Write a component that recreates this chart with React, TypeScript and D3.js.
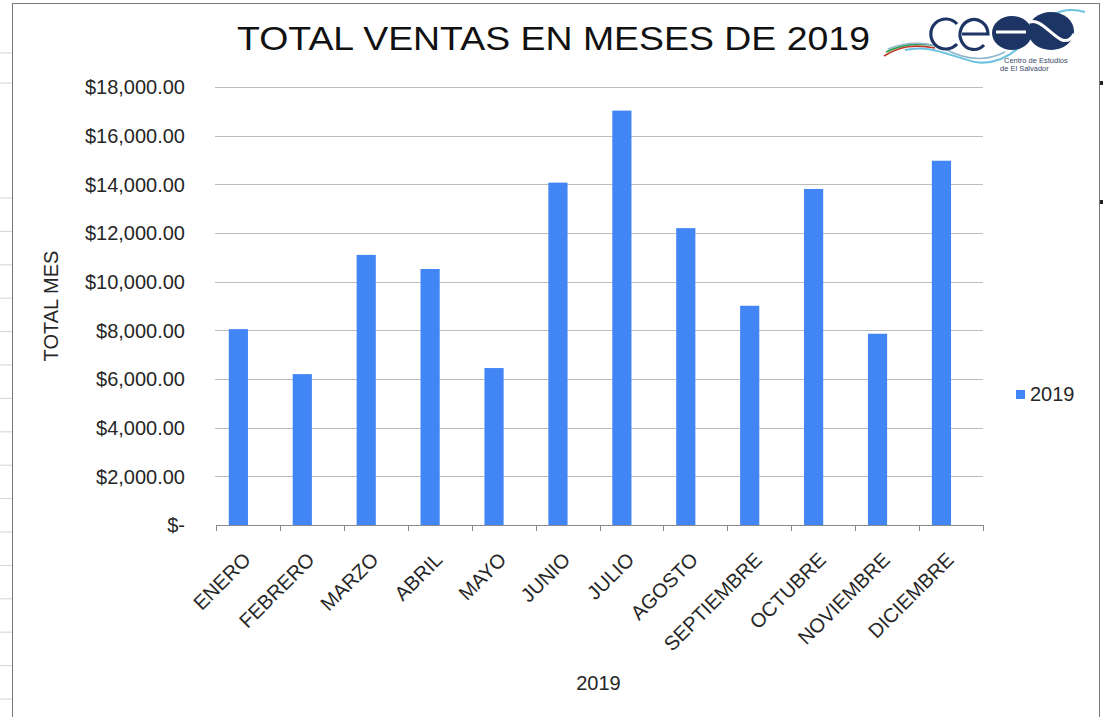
import { useEffect, useRef } from "react"
import * as d3 from "d3"

// Data
const months = ["ENERO", "FEBRERO", "MARZO", "ABRIL", "MAYO", "JUNIO", "JULIO", "AGOSTO", "SEPTIEMBRE", "OCTUBRE", "NOVIEMBRE", "DICIEMBRE"]
const ventas2019 = [8050, 6200, 11100, 10520, 6450, 14070, 17030, 12200, 9010, 13810, 7860, 14970]
const yTicks = [0, 2000, 4000, 6000, 8000, 10000, 12000, 14000, 16000, 18000]
const seriesName = "2019"

const W = 1106
const H = 717
const FONT = "'Liberation Sans', Arial, sans-serif"

export default function App() {
    const svgRef = useRef<SVGSVGElement>(null)

    useEffect(() => {
        const svg = d3.select(svgRef.current)
        svg.selectAll("*").remove()

        const plot = { left: 216, right: 983, top: 87, bottom: 525 }

        const x = d3.scaleBand<string>().domain(months).range([plot.left, plot.right]).padding(0)
        const y = d3.scaleLinear().domain([0, 18000]).range([plot.bottom, plot.top])
        const bw = x.bandwidth()

        // background + spreadsheet bits
        svg.append("rect").attr("width", W).attr("height", H).attr("fill", "#fff")
        const rows = d3.range(198, H, 33.4).concat([53, 83])
        svg.selectAll(".row").data(rows).join("line")
            .attr("x1", 0).attr("x2", 12).attr("y1", d => d).attr("y2", d => d)
            .attr("stroke", "#d4d4d4")
        svg.append("rect")
            .attr("x", 12.5).attr("y", 3.5).attr("width", 1087).attr("height", H)
            .attr("fill", "#fff").attr("stroke", "#7a7a7a")
        svg.selectAll(".mark").data([83, 202]).join("rect")
            .attr("x", 1100).attr("y", d => d - 2).attr("width", 3).attr("height", 4).attr("fill", "#222")

        // gridlines
        svg.selectAll(".grid").data(yTicks.slice(1)).join("line")
            .attr("x1", plot.left - 1).attr("x2", plot.right)
            .attr("y1", d => Math.round(y(d)) + 0.5).attr("y2", d => Math.round(y(d)) + 0.5)
            .attr("stroke", "#bdbdbd")

        // y labels
        const fmt = d3.format(",.2f")
        svg.selectAll(".ylab").data(yTicks).join("text")
            .attr("x", 185).attr("y", d => y(d)).attr("dy", "0.36em")
            .attr("text-anchor", "end").attr("font-family", FONT).attr("font-size", 20)
            .attr("fill", "#262626")
            .text(d => d === 0 ? "$-" : `$${fmt(d)}`)

        // bars
        svg.selectAll(".bar").data(ventas2019).join("rect")
            .attr("x", (_, i) => x(months[i])! + bw * 0.2)
            .attr("width", bw * 0.3)
            .attr("y", d => y(d))
            .attr("height", d => plot.bottom - y(d))
            .attr("fill", "#4285f4")

        // x axis
        svg.append("line")
            .attr("x1", plot.left).attr("x2", plot.right)
            .attr("y1", plot.bottom + 0.5).attr("y2", plot.bottom + 0.5)
            .attr("stroke", "#8a8a8a")
        const bounds = months.map(m => x(m)!).concat([plot.right])
        svg.selectAll(".xtick").data(bounds).join("line")
            .attr("x1", d => Math.round(d) + 0.5).attr("x2", d => Math.round(d) + 0.5)
            .attr("y1", plot.bottom).attr("y2", plot.bottom + 6)
            .attr("stroke", "#8a8a8a")

        svg.selectAll(".xlab").data(months).join("text")
            .attr("transform", d => `translate(${x(d)! + bw / 2 + 4},${plot.bottom + 36}) rotate(-45)`)
            .attr("text-anchor", "end").attr("font-family", FONT).attr("font-size", 20)
            .attr("fill", "#262626")
            .text(d => d)

        // axis titles
        svg.append("text")
            .attr("x", (plot.left + plot.right) / 2 - 1).attr("y", 690)
            .attr("text-anchor", "middle").attr("font-family", FONT).attr("font-size", 20)
            .attr("fill", "#262626").text(seriesName)
        svg.append("text")
            .attr("transform", `translate(58,${(plot.top + plot.bottom) / 2}) rotate(-90)`)
            .attr("text-anchor", "middle").attr("font-family", FONT).attr("font-size", 20)
            .attr("fill", "#262626").text("TOTAL MES")

        // title
        svg.append("text")
            .attr("x", 237).attr("y", 50)
            .attr("textLength", 633).attr("lengthAdjust", "spacingAndGlyphs")
            .attr("font-family", FONT).attr("font-size", 33)
            .attr("fill", "#111").text("TOTAL VENTAS EN MESES DE 2019")

        // legend
        svg.append("rect").attr("x", 1016).attr("y", 390).attr("width", 9).attr("height", 9).attr("fill", "#4285f4")
        svg.append("text").attr("x", 1030).attr("y", 401)
            .attr("font-family", FONT).attr("font-size", 20).attr("fill", "#262626").text(seriesName)

        // logo
        const logo = svg.append("g")
        const navy = "#1d3565"
        logo.append("path").attr("d", "M884,56 C900,46 915,44 935,48").attr("fill", "none").attr("stroke", "#c0392b").attr("stroke-width", 1.6)
        logo.append("path").attr("d", "M886,52 C902,44 918,42 937,46").attr("fill", "none").attr("stroke", "#2e9e4f").attr("stroke-width", 1.6)
        logo.append("path").attr("d", "M888,49 C905,42 925,41 945,49 C965,60 985,62 1005,52").attr("fill", "none").attr("stroke", "#8fb8cc").attr("stroke-width", 1.5)
        logo.append("path").attr("d", "M905,50 C930,44 950,56 975,62 C1000,66 1020,50 1035,30 C1048,14 1065,6 1085,12").attr("fill", "none").attr("stroke", "#6cc3e0").attr("stroke-width", 2)
        logo.append("path").attr("d", "M957,24 A15,15 0 1 0 957,44").attr("fill", "none").attr("stroke", navy).attr("stroke-width", 3.2)
        logo.append("path").attr("d", "M962,34 L988,34 A14,15 0 1 0 984,45").attr("fill", "none").attr("stroke", navy).attr("stroke-width", 3.2)
        logo.append("ellipse").attr("cx", 1012).attr("cy", 33).attr("rx", 20).attr("ry", 17).attr("fill", navy)
        logo.append("ellipse").attr("cx", 1051).attr("cy", 31).attr("rx", 23).attr("ry", 19).attr("fill", navy)
        logo.append("path").attr("d", "M996,32 L1026,32 M1030,22 C1040,18 1052,36 1062,40 C1068,42 1072,38 1074,34").attr("fill", "none").attr("stroke", "#fff").attr("stroke-width", 3)
        logo.append("text").attr("x", 1004).attr("y", 63).attr("font-family", FONT).attr("font-size", 7.5).attr("fill", "#3a4a6a").text("Centro de Estudios")
        logo.append("text").attr("x", 1000).attr("y", 71).attr("font-family", FONT).attr("font-size", 7.5).attr("fill", "#3a4a6a").text("de El Salvador")
    }, [])

    return <svg ref={svgRef} width={W} height={H} style={{ position: "absolute", left: 0, top: 0 }} />
}
